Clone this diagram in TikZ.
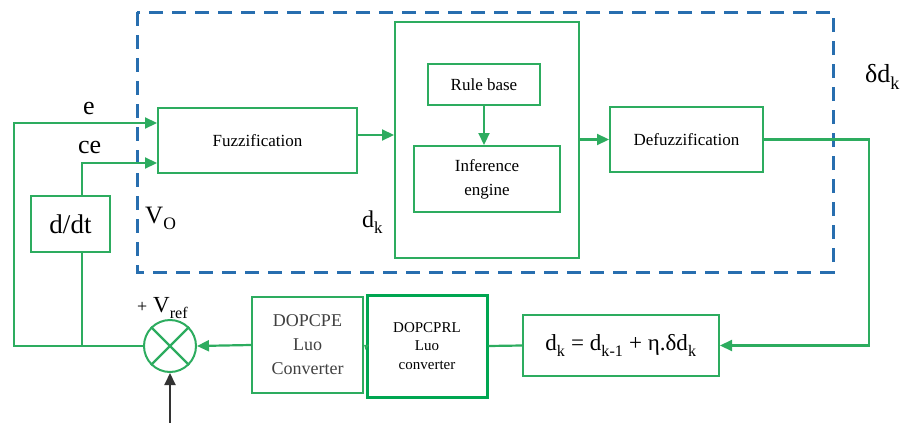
\documentclass[tikz,border=0pt]{standalone}
\usepackage{fontspec}
\setmainfont{Liberation Serif}
\usetikzlibrary{arrows.meta,calc,shapes.geometric}
\definecolor{lgreen}{RGB}{45,172,95}
\definecolor{bgreen}{RGB}{0,166,81}
\definecolor{dblue}{RGB}{40,110,175}
\newcommand{\fs}[2]{\fontsize{#1}{#2}\selectfont}
\newcommand{\sbs}[1]{\raisebox{-0.25ex}{\textsubscript{#1}}}
\tikzset{
  blk/.style={draw=lgreen, line width=2pt, rectangle, inner sep=0pt, align=center, font=\fs{17}{24}},
  conn/.style={draw=lgreen, line width=2.2pt},
  arr/.style={conn, -{Triangle[length=12pt,width=11pt]}},
  lbl/.style={inner sep=0pt, anchor=base west, font=\fs{26}{28}}
}
\begin{document}
\begin{tikzpicture}[x=1pt,y=-1pt]
\useasboundingbox (0,0) rectangle (908,423);
% dashed controller frame
\draw[dblue, line width=3pt, dash pattern=on 14pt off 9pt] (137,12) rectangle (833,272);
% blocks
\node[blk, minimum width=199pt, minimum height=65pt] (fuzz) at (257.5,140.5) {Fuzzification};
\node[blk, minimum width=184pt, minimum height=236pt] (big) at (487,140) {};
\node[blk, minimum width=112pt, minimum height=41pt] (rule) at (484,84.5) {Rule base};
\node[blk, minimum width=146pt, minimum height=66pt] (inf) at (487,179) {Inference\\engine};
\node[blk, minimum width=153pt, minimum height=65pt] (defuzz) at (686.5,139.5) {Defuzzification};
\node[blk, minimum width=79pt, minimum height=56pt, font=\fs{27}{30}] (ddt) at (70.5,224) {d/dt};
\node[blk, minimum width=196pt, minimum height=61pt, font=\fs{23}{24}] (dkbox) at (621,345.5) {d\sbs{k} = d\sbs{k-1} + η.δd\sbs{k}};
\node[blk, draw=bgreen, line width=3pt, minimum width=120pt, minimum height=102pt, font=\fs{15}{18.5}] (prl) at (427,346) {DOPCPRL\\Luo\\converter};
\node[blk, minimum width=111pt, minimum height=96pt, font=\fs{18}{24}, text=black!75] (pe) at (307.5,345) {DOPCPE\\Luo\\Converter};
\node[draw=lgreen, line width=2pt, circle, minimum size=52pt, inner sep=0pt] (sum) at (170,346) {};
\draw[conn] (sum.north west) -- (sum.south east);
\draw[conn] (sum.north east) -- (sum.south west);
% coordinates for free corners
\coordinate (fbl) at (14,346);
\coordinate (rc) at (869,0);
\coordinate (ein) at ($(fuzz.west)+(0,-17.5)$);
\coordinate (cein) at ($(fuzz.west)+(0,22.5)$);
\coordinate (ddtt) at ($(ddt.north)+(11.5,0)$);
\coordinate (ddtb) at ($(ddt.south)+(11.5,0)$);
\coordinate (fzo) at ($(fuzz.east)+(0,-5.5)$);
\coordinate (vin) at (170,423);
% connectors
\draw[arr] (sum.west) -- (fbl) |- (ein);
\draw[conn] (ddtb) -- (ddtb |- sum.west);
\draw[arr] (ddtt) |- (cein);
\draw[arr] (fzo) -- (fzo -| big.west);
\draw[arr] (rule.south) -- (rule.south |- inf.north);
\draw[arr] (big.east |- defuzz.west) -- (defuzz.west);
\draw[arr] (defuzz.east) -- (defuzz.east -| rc) |- (dkbox.east);
\draw[conn] (dkbox.west) -- (prl.west -| prl.east);
\draw[conn, -{Triangle[length=4pt,width=6pt]}] (prl.west) -- (pe.east);
\draw[arr] (pe.west) -- (sum.east);
\draw[draw=black!80, line width=2pt, -{Triangle[length=12pt,width=11pt]}] (vin) -- (sum.south);
% labels
\node[lbl] (le) at (83,114) {e};
\node[lbl] (lce) at (78,153) {ce};
\node[lbl, font=\fs{25}{28}] (lvo) at (145,223) {V\sbs{O}};
\node[lbl, font=\fs{24}{26}] (ldk) at (362,227) {d\sbs{k}};
\node[lbl, font=\fs{26}{28}] (ldd) at (865,82) {δd\sbs{k}};
\node[lbl, font=\fs{18}{20}] (lplus) at (137,312) {+};
\node[lbl, font=\fs{23}{24}] (lvref) at (153,312) {V\sbs{ref}};
\end{tikzpicture}
\end{document}
